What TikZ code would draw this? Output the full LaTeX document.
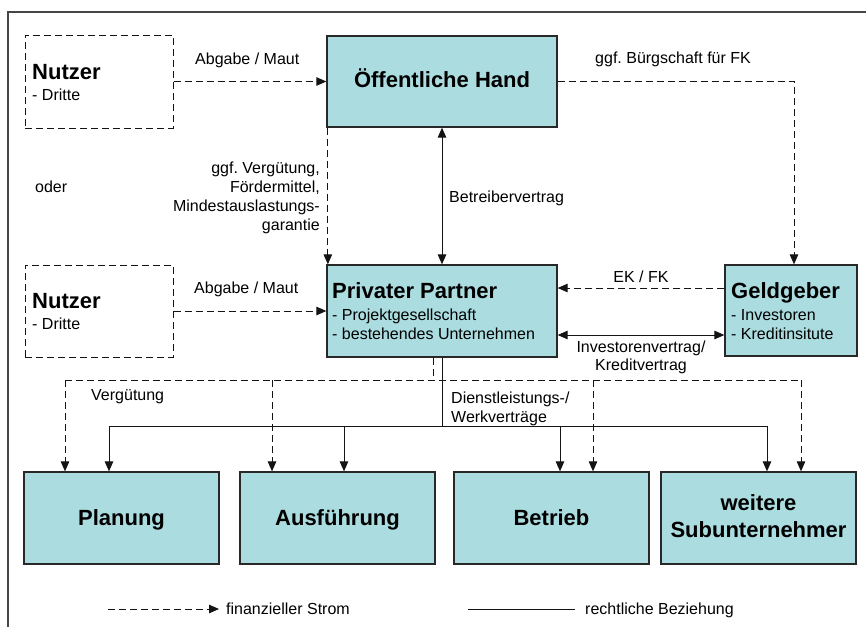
\documentclass[tikz,border=0pt]{standalone}
\usepackage{fontspec}
\setmainfont{Liberation Sans}
\usetikzlibrary{arrows.meta}
\definecolor{boxfill}{RGB}{170,220,224}
\definecolor{boxline}{RGB}{40,40,40}
\definecolor{frameline}{RGB}{70,70,70}
\definecolor{ink}{RGB}{20,20,20}
\frenchspacing
\begin{document}
\begin{tikzpicture}[x=1pt,y=-1pt,
  box/.style={draw=boxline,fill=boxfill,line width=1.3pt,inner sep=0pt},
  ubox/.style={draw=ink,line width=1pt,dash pattern=on 7pt off 4pt,inner sep=0pt},
  title/.style={font=\fontsize{22}{26}\selectfont\bfseries,inner sep=0pt},
  small/.style={font=\fontsize{16}{19}\selectfont,inner sep=0pt},
  tip/.style={-{Triangle[length=10pt,width=8.5pt]}},
  finline/.style={draw=ink,line width=1pt,dash pattern=on 7pt off 4pt},
  fin/.style={finline,tip},
  relline/.style={draw=ink,line width=1pt},
  rel/.style={relline,tip},
  relboth/.style={relline,{Triangle[length=10pt,width=8.5pt]}-{Triangle[length=10pt,width=8.5pt]}},
  frame/.style={draw=frameline,line width=1.5pt}]
\useasboundingbox (0,0) rectangle (866,627);

% outer frame (top and left edge)
\coordinate (frTR) at (866,12);
\coordinate (frTL) at (8,12);
\coordinate (frBL) at (8,627);
\draw[frame] (frTR) -- (frTL) -- (frBL);

% boxes
\node[ubox,minimum width=148pt,minimum height=93pt] (nutzerA) at (99,81.5) {};
\node[ubox,minimum width=148pt,minimum height=92pt] (nutzerB) at (99,311) {};
\node[box,minimum width=230pt,minimum height=91pt] (oeh) at (442,81.5) {};
\node[box,minimum width=230pt,minimum height=92pt] (pp) at (442,311) {};
\node[box,minimum width=132pt,minimum height=91pt] (geld) at (791,310.5) {};
\node[box,minimum width=195pt,minimum height=92pt] (plan) at (121.5,518) {};
\node[box,minimum width=195pt,minimum height=92pt] (ausf) at (337.5,518) {};
\node[box,minimum width=195pt,minimum height=92pt] (betr) at (551.5,518) {};
\node[box,minimum width=195pt,minimum height=92pt] (sub) at (758.5,518) {};

% box texts
\node[title,anchor=base west] (nutzerAt) at (32,79) {Nutzer};
\node[small,anchor=base west] (nutzerAs) at (32,100) {- Dritte};
\node[title,anchor=base west] (nutzerBt) at (32,308) {Nutzer};
\node[small,anchor=base west] (nutzerBs) at (32,329) {- Dritte};
\node[title,anchor=base] (oeht) at (442,87) {Öffentliche Hand};
\node[title,anchor=base west] (ppt) at (332,298) {Privater Partner};
\node[small,anchor=base west] (pps1) at (332,320) {- Projektgesellschaft};
\node[small,anchor=base west] (pps2) at (332,339) {- bestehendes Unternehmen};
\node[title,anchor=base west] (geldt) at (731,298) {Geldgeber};
\node[small,anchor=base west] (gelds1) at (731,320) {- Investoren};
\node[small,anchor=base west] (gelds2) at (731,339) {- Kreditinsitute};
\node[title,anchor=base] (plant) at (121.5,525) {Planung};
\node[title,anchor=base] (ausft) at (337.5,525) {Ausführung};
\node[title,anchor=base] (betrt) at (551.5,525) {Betrieb};
\node[title,anchor=base] (subt1) at (758.5,510) {weitere};
\node[title,anchor=base] (subt2) at (758.5,537) {Subunternehmer};

% upper connectors
\draw[fin] (nutzerA.east) -- (oeh.west);
\draw[fin] (oeh.east) -| ([xshift=3pt]geld.north);
\draw[fin] ([xshift=1.5pt]oeh.south west) -- ([xshift=1.5pt]pp.north west);
\draw[relboth] (oeh.south) -- (pp.north);
\draw[fin] (nutzerB.east) -- (pp.west);
\draw[fin] ([yshift=22.5pt]geld.west) -- ([yshift=22.5pt]geld.west -| pp.east);
\draw[relboth] ([yshift=-24.5pt]geld.west) -- ([yshift=-24.5pt]geld.west -| pp.east);

% connector labels (multi-line nodes are placed by their last baseline)
\node[small,anchor=base west] (lAbgA) at (195,64) {Abgabe / Maut};
\node[small,anchor=base west] (lAbgB) at (194,293) {Abgabe / Maut};
\node[small,anchor=base west] (lBuerg) at (595,63) {ggf. Bürgschaft für FK};
\node[small,anchor=base west] (loder) at (35,192) {oder};
\node[small,anchor=base east,align=right] (lVerg) at (320,230)
  {ggf. Vergütung,\\Fördermittel,\\Mindestauslastungs-\\garantie};
\node[small,anchor=base west] (lBetr) at (449,202) {Betreibervertrag};
\node[small,anchor=base] (lEK) at (641,282) {EK / FK};
\node[small,anchor=base,align=center,font=\fontsize{16}{18}\selectfont] (lInv) at (641,370)
  {Investorenvertrag/\\Kreditvertrag};

% financial bus to the sub-contractors
\coordinate (finL) at (65,380);
\coordinate (finR) at (801,380);
\draw[finline] ([xshift=-9pt]pp.south) -- ([xshift=-9pt]pp.south |- finL);
\draw[finline] (finL) -- (finR);
\draw[fin] (finL) -- (finL |- plan.north);
\draw[fin] ([xshift=-65.5pt]ausf.north |- finL) -- ([xshift=-65.5pt]ausf.north);
\draw[fin] ([xshift=41.5pt]betr.north |- finL) -- ([xshift=41.5pt]betr.north);
\draw[fin] (finR) -- (finR |- sub.north);

% contractual bus to the sub-contractors
\coordinate (relL) at (109,426);
\coordinate (relR) at (767,426);
\draw[relline] (pp.south) -- (pp.south |- relL);
\draw[relline] (relL) -- (relR);
\draw[rel] (relL) -- (relL |- plan.north);
\draw[rel] ([xshift=6.5pt]ausf.north |- relL) -- ([xshift=6.5pt]ausf.north);
\draw[rel] ([xshift=8.5pt]betr.north |- relL) -- ([xshift=8.5pt]betr.north);
\draw[rel] (relR) -- (relR |- sub.north);

\node[small,anchor=base west] (lVerg2) at (91,400) {Vergütung};
\node[small,anchor=base west,align=left] (lDienst) at (451,422) {Dienstleistungs-/\\Werkverträge};

% legend
\coordinate (legA) at (108,609);
\coordinate (legB) at (219,609);
\draw[fin] (legA) -- (legB);
\node[small,anchor=base west] (legAt) at (226,614.5) {finanzieller Strom};
\coordinate (legC) at (468,609);
\coordinate (legD) at (575,609);
\draw[relline] (legC) -- (legD);
\node[small,anchor=base west] (legCt) at (585,614.5) {rechtliche Beziehung};
\end{tikzpicture}
\end{document}
